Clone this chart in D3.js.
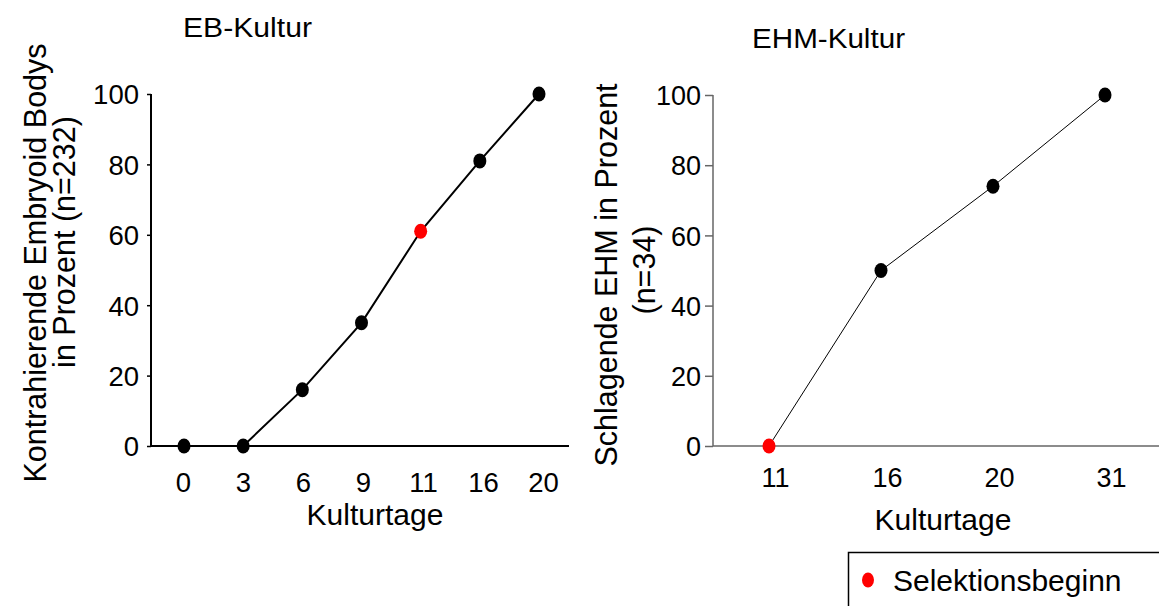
<!DOCTYPE html>
<html>
<head>
<meta charset="utf-8">
<script src="https://cdn.jsdelivr.net/npm/d3@7"></script>
<style>
  html, body { margin: 0; padding: 0; background: #fff; }
  svg { display: block; }
  text { font-family: "Liberation Sans", Arial, sans-serif; fill: #000; }
</style>
</head>
<body>
<svg id="chart" width="1159" height="606"></svg>
<script>
// EB-Kultur: contracting embryoid bodies per culture day
const ebDays = ["0", "3", "6", "9", "11", "16", "20"];
const ebPercent = [0, 0, 16, 35, 61, 81, 100];
// EHM-Kultur: beating EHM per culture day
const ehmDays = ["11", "16", "20", "31"];
const ehmPercent = [0, 50, 74, 100];
// Day on which selection starts (drawn in red)
const selectionDay = "11";
const yTicks = [0, 20, 40, 60, 80, 100];

const svg = d3.select("#chart");

function panel(o) {
  const g = svg.append("g");
  const x = d3.scalePoint().domain(o.days).range(o.xRange);
  // day labels sit on a slightly wider band than the markers
  const xl = d3.scalePoint().domain(o.days).range(o.labelRange);
  const y = d3.scaleLinear().domain([0, 100]).range(o.yRange);

  // y axis
  const ya = g.append("g")
    .attr("transform", `translate(${o.axisX},0)`)
    .call(d3.axisLeft(y).tickValues(yTicks).tickSize(o.tickLen).tickPadding(o.yPad));
  ya.select(".domain").attr("stroke", o.axisColor).attr("stroke-width", o.axisWidth)
    .attr("d", `M0,${y(100)}V${y(0)}`);
  ya.selectAll(".tick line").attr("stroke", o.axisColor).attr("stroke-width", 1.5);
  ya.selectAll(".tick text").style("font-size", o.tickFont + "px").attr("dy", "0.36em");

  // x axis line
  g.append("line")
    .attr("x1", o.axisX).attr("x2", o.xEnd)
    .attr("y1", y(0)).attr("y2", y(0))
    .attr("stroke", o.axisColor).attr("stroke-width", o.axisWidth);

  // x labels (no tick marks)
  const xa = g.append("g")
    .call(d3.axisBottom(xl).tickSize(0).tickPadding(0));
  xa.select(".domain").remove();
  xa.selectAll(".tick text")
    .attr("y", o.xLabelY).attr("dy", null)
    .style("font-size", o.tickFont + "px");

  // line
  const pts = o.days.map((d, i) => ({ d, v: o.values[i] }));
  g.append("path")
    .datum(pts)
    .attr("fill", "none")
    .attr("stroke", "#000")
    .attr("stroke-width", o.lineWidth)
    .attr("d", d3.line().x(p => x(p.d)).y(p => y(p.v)));

  // markers
  g.selectAll("ellipse.pt")
    .data(pts)
    .join("ellipse")
    .attr("class", "pt")
    .attr("cx", p => x(p.d))
    .attr("cy", p => y(p.v))
    .attr("rx", 6.5)
    .attr("ry", 7.5)
    .attr("fill", p => p.d === selectionDay ? "#ff0000" : "#000");

  // panel title
  g.append("text")
    .attr("x", o.titleX).attr("y", o.titleY)
    .attr("textLength", o.titleLen)
    .attr("lengthAdjust", "spacingAndGlyphs")
    .style("font-size", "27px")
    .text(o.title);

  // x axis title
  g.append("text")
    .attr("x", o.xTitleX).attr("y", o.xTitleY)
    .attr("text-anchor", "middle")
    .style("font-size", "30px")
    .text("Kulturtage");

  // y axis title (two lines)
  o.yTitle.forEach((line, i) => {
    g.append("text")
      .attr("transform", `translate(${o.yTitleX[i]},${o.yTitleY[i]}) rotate(-90)`)
      .attr("text-anchor", "middle")
      .style("font-size", "30.5px")
      .text(line);
  });
}

panel({
  days: ebDays, values: ebPercent,
  xRange: [184, 539], labelRange: [183, 543], yRange: [446, 94],
  axisX: 151, xEnd: 569, axisColor: "#000", axisWidth: 2, lineWidth: 2,
  tickLen: 4, yPad: 8, tickFont: 27.5, xLabelY: 492,
  title: "EB-Kultur", titleX: 183, titleY: 37, titleLen: 129,
  xTitleX: 375, xTitleY: 525,
  yTitle: ["Kontrahierende Embryoid Bodys", "in Prozent (n=232)"],
  yTitleX: [46, 75], yTitleY: [263, 242]
});

panel({
  days: ehmDays, values: ehmPercent,
  xRange: [769, 1105], labelRange: [775, 1111], yRange: [446, 95],
  axisX: 713, xEnd: 1159, axisColor: "#666", axisWidth: 1.5, lineWidth: 1,
  tickLen: 8, yPad: 4, tickFont: 27, xLabelY: 487,
  title: "EHM-Kultur", titleX: 752, titleY: 48, titleLen: 153,
  xTitleX: 943, xTitleY: 530,
  yTitle: ["Schlagende EHM in Prozent", "(n=34)"],
  yTitleX: [617, 655], yTitleY: [275, 270]
});

// legend
const lg = svg.append("g");
lg.append("path")
  .attr("d", "M848.5,620V552.5H1170")
  .attr("fill", "none").attr("stroke", "#000").attr("stroke-width", 1.5);
lg.append("ellipse")
  .attr("cx", 868).attr("cy", 580).attr("rx", 6).attr("ry", 7.5)
  .attr("fill", "#ff0000");
lg.append("text")
  .attr("x", 893).attr("y", 591)
  .style("font-size", "30px")
  .text("Selektionsbeginn");
</script>
</body>
</html>
